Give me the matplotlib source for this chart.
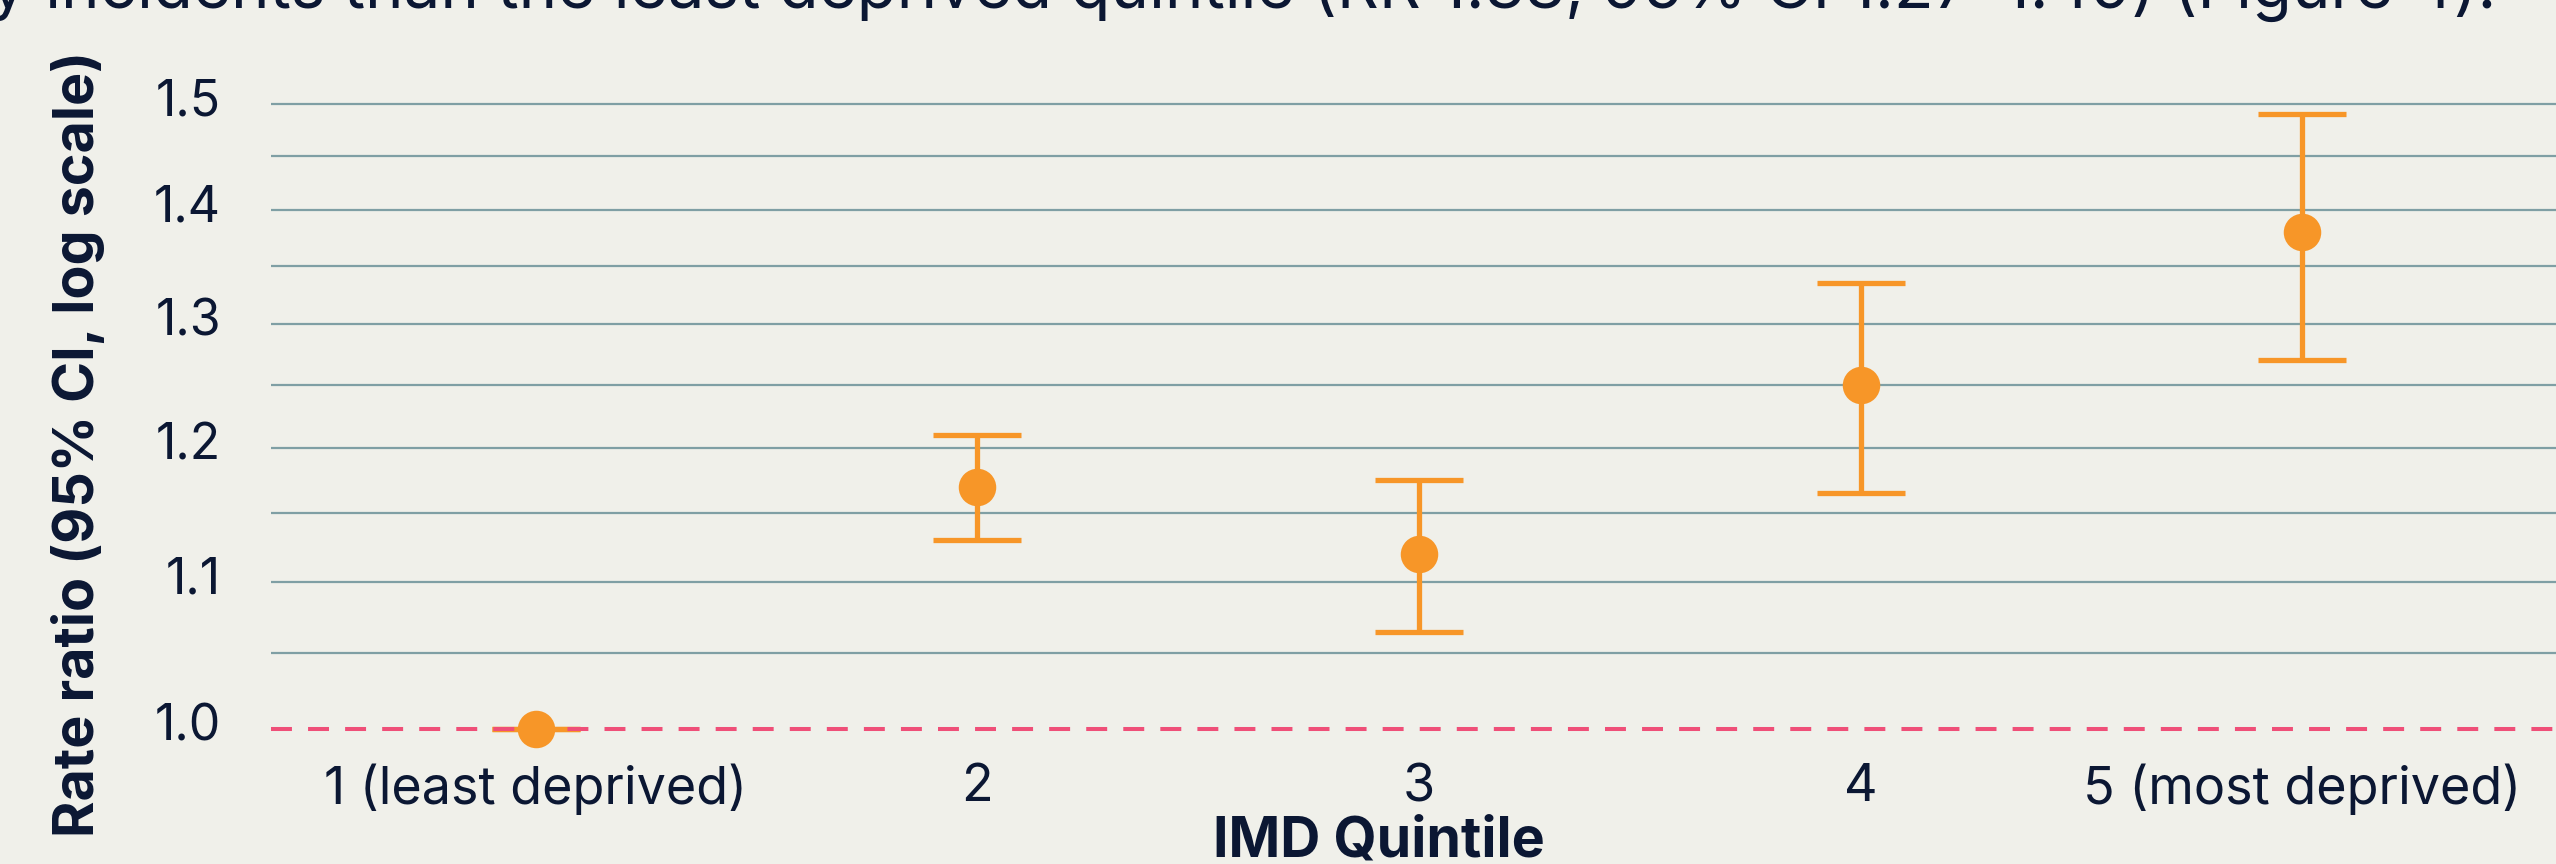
import numpy as np
import matplotlib.pyplot as plt
import matplotlib.transforms as mtransforms
from matplotlib.ticker import FixedLocator, NullFormatter

# Rate ratios by IMD quintile, with 95% confidence intervals
quintiles = ["1 (least deprived)", "2", "3", "4", "5 (most deprived)"]
rate_ratio = [1.00, 1.17, 1.12, 1.25, 1.38]
ci_low = [1.00, 1.13, 1.065, 1.165, 1.27]
ci_high = [1.00, 1.21, 1.175, 1.335, 1.49]

major_ticks = [1.0, 1.1, 1.2, 1.3, 1.4, 1.5]
minor_ticks = [1.05, 1.15, 1.25, 1.35, 1.45]

bg = "#f0f0ea"
navy = "#0b1733"
orange = "#f79628"
pink = "#ef4f78"
grid = "#7f9fa4"

plt.rcParams["font.family"] = ["Inter", "DejaVu Sans"]

fig = plt.figure(figsize=(25.56, 8.64), dpi=100, facecolor=bg)
ax = fig.add_axes([271 / 2556, 1 - 744 / 864, 1 - 271 / 2556, (744 - 73.5) / 864])
ax.set_facecolor(bg)

x = np.arange(len(quintiles))
rr = np.array(rate_ratio)
err = np.vstack([rr - np.array(ci_low), np.array(ci_high) - rr])

ax.set_yscale("log")
ax.set_ylim(0.99, 1.53)
ax.set_xlim(-0.6, 4.575)

# gridlines at every 0.05
for v in major_ticks[1:] + minor_ticks:
    ax.axhline(v, color=grid, lw=1.6, zorder=1)

ax.errorbar(x, rr, yerr=err, fmt="none", ecolor=orange, elinewidth=3.8,
            capsize=31.5, capthick=3.8, zorder=2, clip_on=False)
ax.axhline(1.0, color=pink, lw=2.9, dashes=(5.2, 4.0), zorder=3)
ax.plot(x, rr, "o", color=orange, markersize=27, markeredgewidth=0,
        zorder=4, clip_on=False)

ax.yaxis.set_major_locator(FixedLocator(major_ticks))
ax.yaxis.set_minor_locator(FixedLocator([]))
ax.yaxis.set_minor_formatter(NullFormatter())
ax.set_yticklabels([f"{v:.1f}" for v in major_ticks])
ax.set_xticks(x)
ax.set_xticklabels(quintiles)
ax.tick_params(axis="y", length=0, labelsize=36, colors=navy, pad=36)
ax.tick_params(axis="x", length=0, labelsize=37.5, colors=navy, pad=14)
for s in ax.spines.values():
    s.set_visible(False)

# nudge y tick labels up a little
lift = mtransforms.ScaledTranslation(0, 5 / 72, fig.dpi_scale_trans)
for lab in ax.get_yticklabels():
    lab.set_transform(lab.get_transform() + lift)

fig.text(78 / 2556, 1 - 444 / 864, "Rate ratio (95% CI, log scale)", rotation=90,
         ha="center", va="center", fontsize=40, fontweight="bold", color=navy)
fig.text(1379 / 2556, 1 - 841 / 864, "IMD Quintile", ha="center", va="center",
         fontsize=40, fontweight="bold", color=navy)
fig.text(-0.004, 1 - 8 / 864,
         "y incidents than the least deprived quintile (RR 1.38, 95% CI 1.27\u20131.49) (Figure 4).",
         ha="left", va="baseline", fontsize=47, color=navy)

fig.savefig("out.png", dpi=100, facecolor=bg)
